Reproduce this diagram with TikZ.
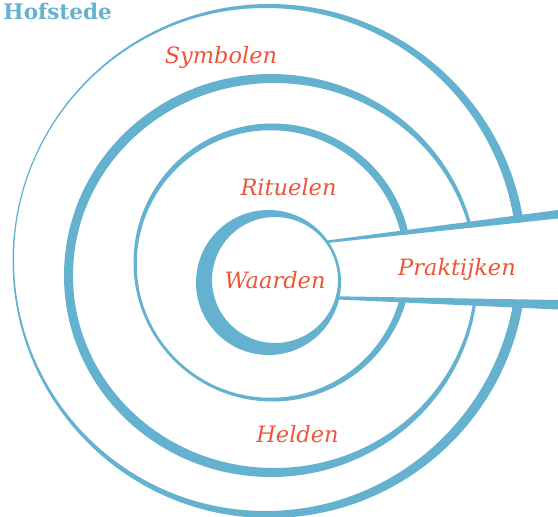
\documentclass[tikz,border=0pt]{standalone}
\usepackage{fontspec}
\newfontfamily\labelfont{DejaVu Serif}
\definecolor{ringblue}{RGB}{100,178,207}
\definecolor{labelred}{RGB}{235,86,56}
\tikzset{
  ring/.style={fill=ringblue, even odd rule},
  band/.style={fill=ringblue},
  lbl/.style={text=labelred, font=\labelfont\itshape\fontsize{22.5}{27}\selectfont, inner sep=0pt, anchor=base},
  ttl/.style={text=ringblue, font=\labelfont\bfseries\fontsize{21.5}{25}\selectfont, inner sep=0pt, anchor=base east}
}
\begin{document}
\begin{tikzpicture}[x=1pt,y=-1pt]
\useasboundingbox (0,0) rectangle (558,517);
% outer rings
\fill[ring] (269.5,261) circle (257pt) (265.5,259.5) circle (251.5pt);
\fill[ring] (271,275.5) ellipse (207pt and 201.5pt) (274,275.5) ellipse (201pt and 192.5pt);
\fill[ring] (272.5,262.5) circle (139pt) (270.5,264) circle (133.75pt);
% wedge opening
\fill[white] (327,242.5) -- (558,218.5) -- (558,300) -- (338,299.3) -- cycle;
\fill[band] (327,240.5) -- (558,210) -- (558,218.5) -- (327,243) -- cycle;
\fill[band] (338,296.3) -- (558,300) -- (558,309.5) -- (338,299.5) -- cycle;
% inner ring
\fill[ring] (268.5,282.5) circle (72.5pt) (275,280) circle (63pt);
% labels
\node[lbl] (symbolen) at (221,63) {Symbolen};
\node[lbl] (rituelen) at (288.5,195) {Rituelen};
\node[lbl] (waarden) at (275,288) {Waarden};
\node[lbl] (praktijken) at (457,275) {Praktijken};
\node[lbl] (helden) at (297.5,442) {Helden};
\node[ttl] (title) at (112,19) {Hofstede};
\end{tikzpicture}
\end{document}
